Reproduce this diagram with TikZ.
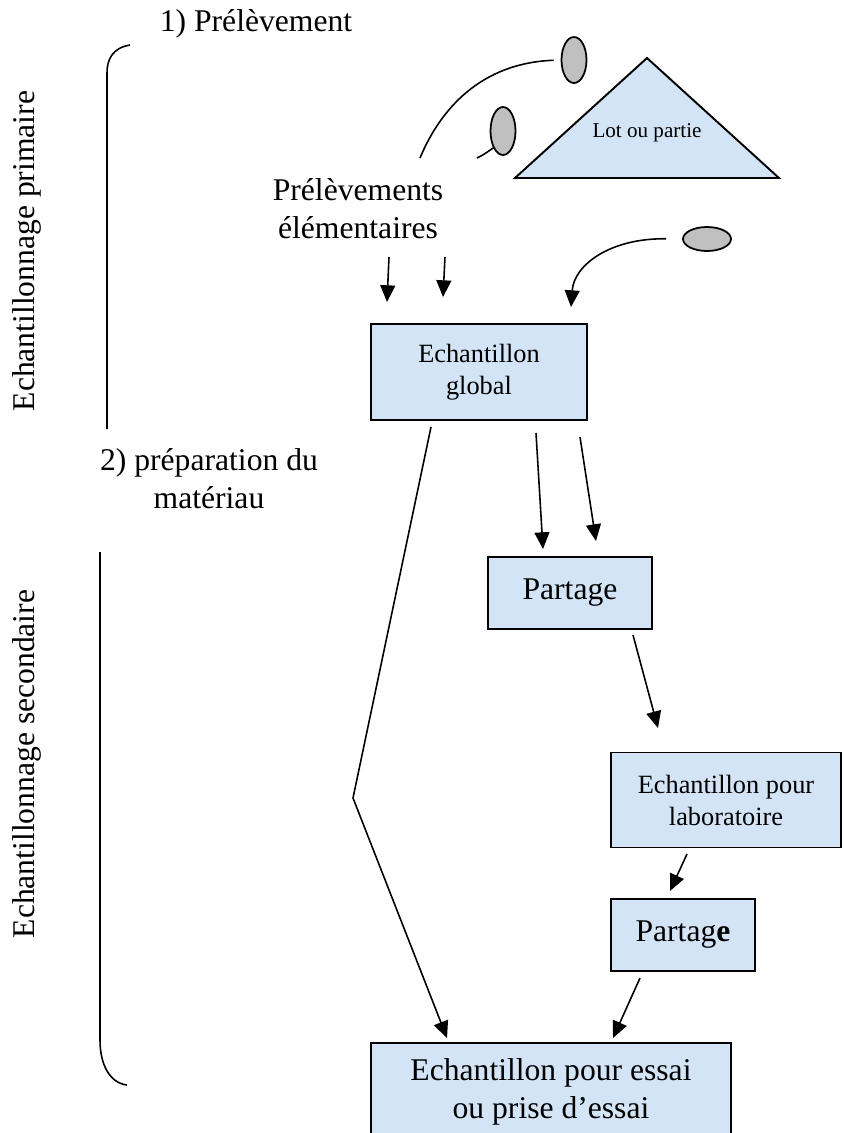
\documentclass[tikz,border=0pt]{standalone}
\usepackage{fontspec}
\setmainfont{Liberation Serif}
\usepackage{tikz}
\usetikzlibrary{arrows.meta,shapes.geometric}
\definecolor{lotblue}{RGB}{211,228,246}
\definecolor{graingray}{RGB}{192,192,192}
\tikzstyle{samplebox}=[rectangle,draw=black,line width=1.1pt,fill=lotblue,align=center,inner sep=0pt]
\tikzstyle{grain}=[ellipse,draw=black,line width=1pt,fill=graingray,inner sep=0pt]
\tikzstyle{edge} = [draw,line width=0.9pt,-{Triangle[length=9.5pt,width=8.5pt]}]
\tikzstyle{undirectededge} = [draw,line width=0.9pt]
\tikzstyle{bigtext} = [font=\fontsize{18}{21.8}\selectfont,align=center]
\tikzstyle{smalltext} = [font=\fontsize{15}{18.2}\selectfont,align=center]
\tikzstyle{tinytext} = [font=\fontsize{12}{14}\selectfont]

\begin{document}
\begin{tikzpicture}[x=0.02cm,y=-0.02cm]
    \useasboundingbox (0,0) rectangle (843,1133);
    \clip (0,0) rectangle (843,1133);

    % braces and stage titles
    \draw[undirectededge] (130,45) .. controls (112,48) and (107,60) .. (107,73) -- (107,429);
    \draw[undirectededge] (100,552) -- (100,1040) .. controls (100,1065) and (110,1083) .. (127,1085);
    \node[bigtext,rotate=90] (prim) at (27,251) {Echantillonnage primaire};
    \node[bigtext,rotate=90] (sec) at (27,764) {Echantillonnage secondaire};
    \node[bigtext] (step1) at (256,24) {1) Prélèvement};
    \node[bigtext] (step2) at (209,479) {2) préparation du\\matériau};

    % lot and increments
    \draw[line width=1.1pt,fill=lotblue] (647,58) -- (515,178) -- (779,178) -- cycle;
    \node[tinytext] (lot) at (647,133) {Lot ou partie};
    \foreach \pos/\name/\w/\h in {{(574,60)/g1/0.5cm/0.92cm}, {(503,131)/g2/0.5cm/0.96cm}, {(707,239)/g3/0.96cm/0.48cm}}
        \node[grain,minimum width=\w,minimum height=\h] (\name) at \pos {};
    \node[bigtext] (incr) at (358,209) {Prélèvements\\élémentaires};

    % the samples
    \node[samplebox,smalltext,minimum width=4.32cm,minimum height=1.92cm] (global) at (479,372) {Echantillon\\global};
    \node[samplebox,bigtext,minimum width=3.28cm,minimum height=1.44cm] (part1) at (570,593) {Partage};
    \node[samplebox,smalltext,minimum width=4.6cm,minimum height=1.9cm] (labo) at (726,800) {Echantillon pour\\laboratoire};
    \node[samplebox,bigtext,minimum width=2.88cm,minimum height=1.44cm] (part2) at (683,935) {Partag\textbf{e}};
    \node[samplebox,bigtext,minimum width=7.2cm,minimum height=1.96cm] (essai) at (551,1092) {Echantillon pour essai\\ou prise d’essai};

    % free ends of the arrows
    \foreach \pos/\name in {{(420,158)/c1}, {(477,158)/c2}, {(571,307)/g3e}, {(389,257)/p1}, {(387,302)/p1e}, {(445,257)/p2}, {(443,297)/p2e}, {(536,433)/s1}, {(543,549)/s1e}, {(580,437)/s2}, {(596,541)/s2e}, {(431,427)/t1}, {(353,798)/kink}, {(447,1038)/t1e}, {(633,635)/q1}, {(658,728)/q1e}, {(687,854)/q2}, {(670,891)/q2e}, {(640,978)/q3}, {(613,1038)/q3e}}
        \node[coordinate] (\name) at \pos {};

    \draw[undirectededge,shorten <=0.14cm] (g1.west) .. controls (480,63) and (440,110) .. (c1);
    \draw[undirectededge] (c2) .. controls (483,155) .. (g2.240);
    \path[edge,shorten <=0.32cm] (g3.west) .. controls (610,238) and (574,265) .. (g3e);
    \foreach \source/\dest in {p1/p1e, p2/p2e, s1/s1e, s2/s2e, q1/q1e, q2/q2e, q3/q3e}
        \path[edge] (\source) -- (\dest);
    \path[edge] (t1) -- (kink) -- (t1e);
\end{tikzpicture}
\end{document}
